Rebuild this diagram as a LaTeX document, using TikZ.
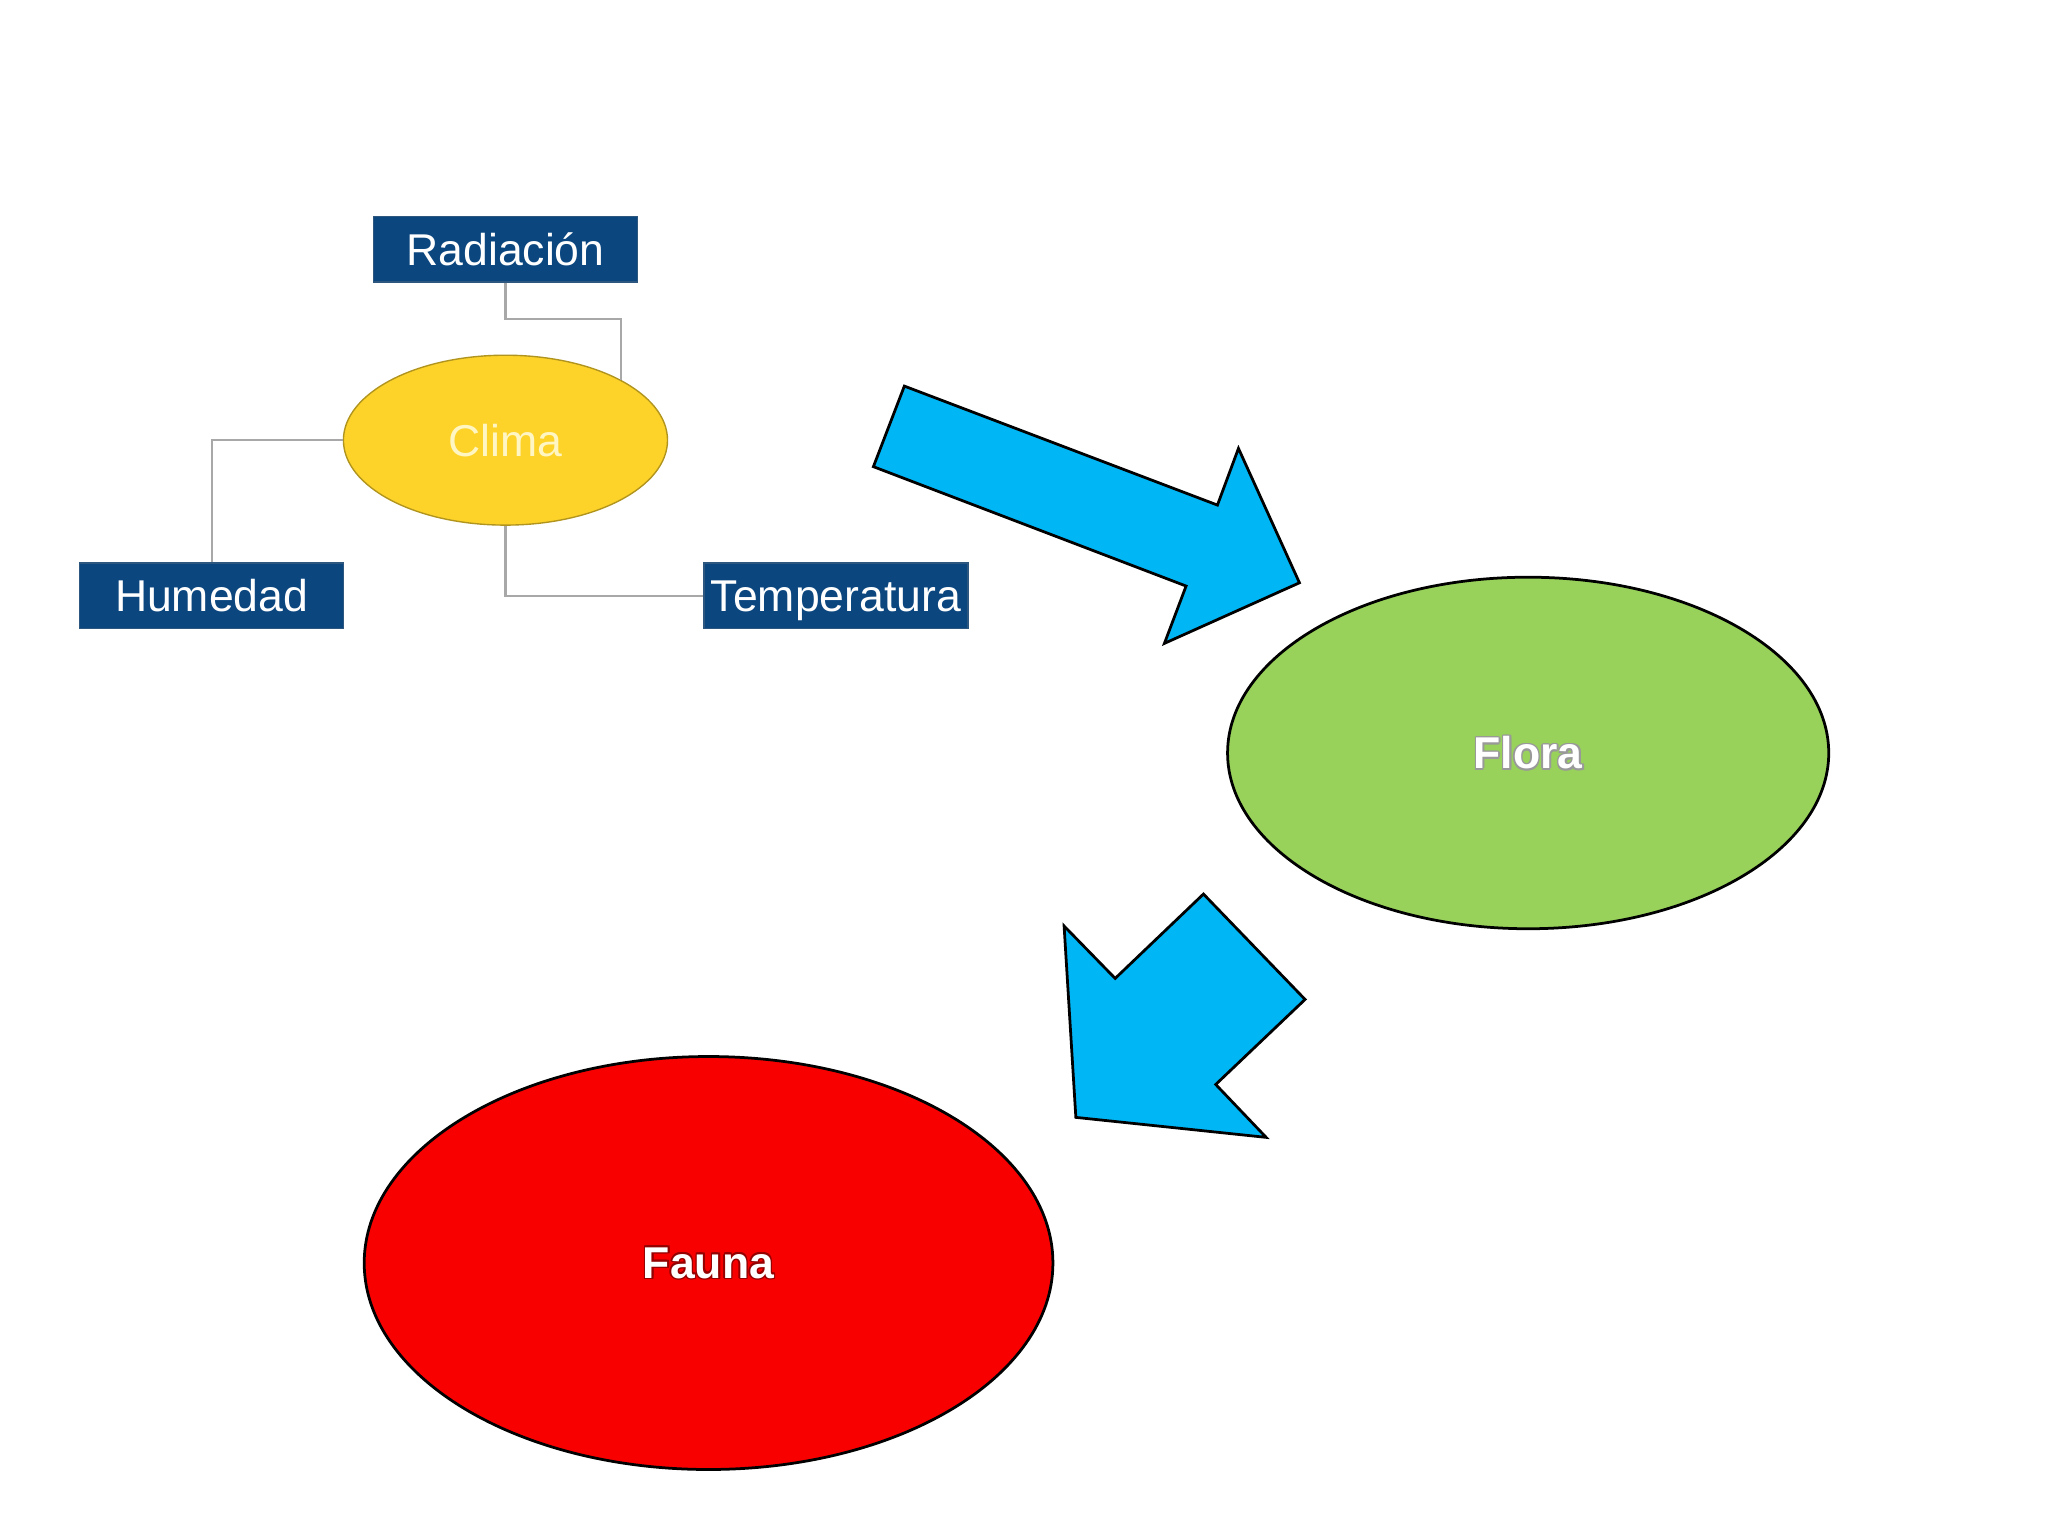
\documentclass[tikz,border=0pt]{standalone}
\usepackage{fontspec}
\setmainfont{Liberation Sans}
\usetikzlibrary{shapes.geometric}
\definecolor{navy}{HTML}{0B467F}
\definecolor{sky}{HTML}{00B6F4}
\definecolor{leaf}{HTML}{98D25A}
\definecolor{sun}{HTML}{FDD32A}
\definecolor{suntext}{HTML}{FFF6C4}
\definecolor{linkgray}{HTML}{A8A8A8}
\definecolor{fauna}{HTML}{F90000}
\tikzset{
  box/.style={draw=navy!70!gray, line width=0.3pt, fill=navy, text=white, minimum width=2.02cm, minimum height=0.50cm, inner sep=0pt, text height=0.25cm, text depth=0pt, font=\fontsize{9.7}{11}\selectfont},
  link/.style={draw=linkgray, line width=0.45pt},
  blockarrow/.style={fill=sky, draw=black, line width=0.6pt, line join=miter},
  bigoval/.style={ellipse, draw=black, line width=0.6pt, inner sep=0pt, text=white, font=\fontsize{9.7}{11}\selectfont\bfseries},
  halo/.style={text=#1, font=\fontsize{9.7}{11}\selectfont\bfseries, inner sep=0pt}
}
\begin{document}
\begin{tikzpicture}[x=0.01cm, y=-0.01cm]
\useasboundingbox (0,0) rectangle (1568,1176);
\fill[white] (0,0) rectangle (1568,1176);
% Clima group
\node[box] (rad) at (387,191) {Radiación};
\node[box] (hum) at (162,456) {Humedad};
\node[box] (temp) at (640,456) {Temperatura};
\node[ellipse, fill=sun, draw=sun!70!black, line width=0.3pt, minimum width=2.48cm, minimum height=1.30cm, inner sep=0pt, text=suntext, font=\fontsize{9.7}{11}\selectfont] (clima) at (387,337) {Clima};
\draw[link] (rad.south) -- ++(0,28) -| (clima.north east);
\draw[link] (clima.west) -| (hum.north);
\draw[link] (clima.south) |- (temp.west);
% Flora and Fauna
\node[bigoval, fill=leaf, minimum width=4.60cm, minimum height=2.69cm] (flora) at (1170,576.5) {};
\node[bigoval, fill=fauna, minimum width=5.27cm, minimum height=3.16cm] (faunan) at (542.5,967) {};
\foreach \dx/\dy in {-1.2/0,1.2/0,0/-1.2,0/1.2,-0.9/-0.9,0.9/0.9,-0.9/0.9,0.9/-0.9} {
  \node[halo=gray!80] at ([shift={(\dx,\dy)}]flora.center) {Flora};
  \node[halo=fauna!60!black] at ([shift={(\dx,\dy)}]faunan.center) {Fauna};
}
\node[halo=white] (floratext) at (flora.center) {Flora};
\node[halo=white] (faunatext) at (faunan.center) {Fauna};
% block arrows
\draw[blockarrow] (692.4,295.6) -- (668.7,357.3) -- (908.1,448.7) -- (891.5,492.6) -- (994.9,446.2) -- (948.2,343.3) -- (932.1,386.7) -- cycle;
\draw[blockarrow] (921.4,684.5) -- (853.8,749.1) -- (814.7,709.0) -- (823.7,855.5) -- (969.4,870.8) -- (930.8,830.3) -- (999.2,765.2) -- cycle;
\end{tikzpicture}
\end{document}
